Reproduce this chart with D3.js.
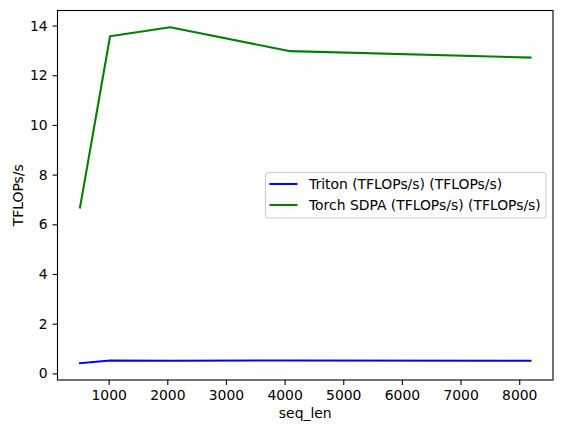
<!DOCTYPE html>
<html>
<head>
<meta charset="utf-8">
<script src="https://cdn.jsdelivr.net/npm/d3@7"></script>
<style>
  body { margin: 0; background: #fff; }
  svg { font-family: "DejaVu Sans", sans-serif; }
</style>
</head>
<body>
<svg id="chart" width="562" height="433"></svg>
<script>
// data
var seqLen = [512, 1024, 2048, 4096, 8192];
var triton = [0.41, 0.52, 0.51, 0.52, 0.51];
var torchSdpa = [6.68, 13.57, 13.93, 12.97, 12.71];
var seriesNames = ["Triton (TFLOPs/s) (TFLOPs/s)", "Torch SDPA (TFLOPs/s) (TFLOPs/s)"];
var seriesColors = ["#0000ff", "#008000"];
var xTicks = [1000, 2000, 3000, 4000, 5000, 6000, 7000, 8000];
var yTicks = [0, 2, 4, 6, 8, 10, 12, 14];

var margin = { left: 57.5, right: 9, top: 10.5, bottom: 53 };
var width = 562 - margin.left - margin.right,
    height = 433 - margin.top - margin.bottom;

var svg = d3.select("#chart");
var g = svg.append("g")
    .attr("transform", "translate(" + margin.left + "," + margin.top + ")");

// X Scale (matplotlib style 5% margins)
var xmin = d3.min(seqLen), xmax = d3.max(seqLen), xpad = (xmax - xmin) * 0.05;
var x = d3.scaleLinear()
    .domain([xmin - xpad, xmax + xpad])
    .range([0, width]);

// Y Scale
var all = triton.concat(torchSdpa);
var ymin = d3.min(all), ymax = d3.max(all), ypad = (ymax - ymin) * 0.05;
var y = d3.scaleLinear()
    .domain([ymin - ypad, ymax + ypad])
    .range([height, 0]);

// X Axis
var xAxisCall = d3.axisBottom(x)
    .tickValues(xTicks)
    .tickSize(4.9)
    .tickPadding(4.9)
    .tickFormat(d3.format("d"));
var xg = g.append("g")
    .attr("transform", "translate(0," + height + ")")
    .call(xAxisCall);

// Y Axis
var yAxisCall = d3.axisLeft(y)
    .tickValues(yTicks)
    .tickSize(4.9)
    .tickPadding(4.9)
    .tickFormat(d3.format("d"));
var yg = g.append("g")
    .call(yAxisCall);

[xg, yg].forEach(function(a) {
    a.select(".domain").remove();
    a.selectAll("line").attr("stroke", "#000").attr("stroke-width", 1.1);
    a.selectAll("text")
        .attr("font-family", "DejaVu Sans")
        .attr("font-size", "13.9px")
        .attr("fill", "#000");
});

// Lines
var line = d3.line()
    .x(function(d, i) { return x(seqLen[i]); })
    .y(function(d) { return y(d); });

[triton, torchSdpa].forEach(function(s, k) {
    g.append("path")
        .datum(s)
        .attr("fill", "none")
        .attr("stroke", seriesColors[k])
        .attr("stroke-width", 2.08)
        .attr("stroke-linejoin", "round")
        .attr("stroke-linecap", "square")
        .attr("d", line);
});

// frame
g.append("rect")
    .attr("width", width)
    .attr("height", height)
    .attr("fill", "none")
    .attr("stroke", "#000")
    .attr("stroke-width", 1.1);

// X Label
g.append("text")
    .attr("x", width / 2)
    .attr("y", height + 38)
    .attr("font-size", "13.9px")
    .attr("text-anchor", "middle")
    .text("seq_len");

// Y Label
g.append("text")
    .attr("x", -(height / 2))
    .attr("y", -35)
    .attr("font-size", "13.9px")
    .attr("text-anchor", "middle")
    .attr("transform", "rotate(-90)")
    .text("TFLOPs/s");

// Legend
var leg = svg.append("g").attr("transform", "translate(265.5,172.5)");
leg.append("rect")
    .attr("width", 280.5)
    .attr("height", 45.5)
    .attr("rx", 2.8)
    .attr("fill", "#fff")
    .attr("fill-opacity", 0.8)
    .attr("stroke", "#cccccc")
    .attr("stroke-width", 1.1);

seriesNames.forEach(function(name, k) {
    var cy = 11.5 + k * 21;
    leg.append("line")
        .attr("x1", 4).attr("x2", 32)
        .attr("y1", cy).attr("y2", cy)
        .attr("stroke", seriesColors[k])
        .attr("stroke-width", 2.08);
    leg.append("text")
        .attr("x", 43.5)
        .attr("y", cy)
        .attr("dy", "0.36em")
        .attr("font-size", "13.9px")
        .text(name);
});
</script>
</body>
</html>
